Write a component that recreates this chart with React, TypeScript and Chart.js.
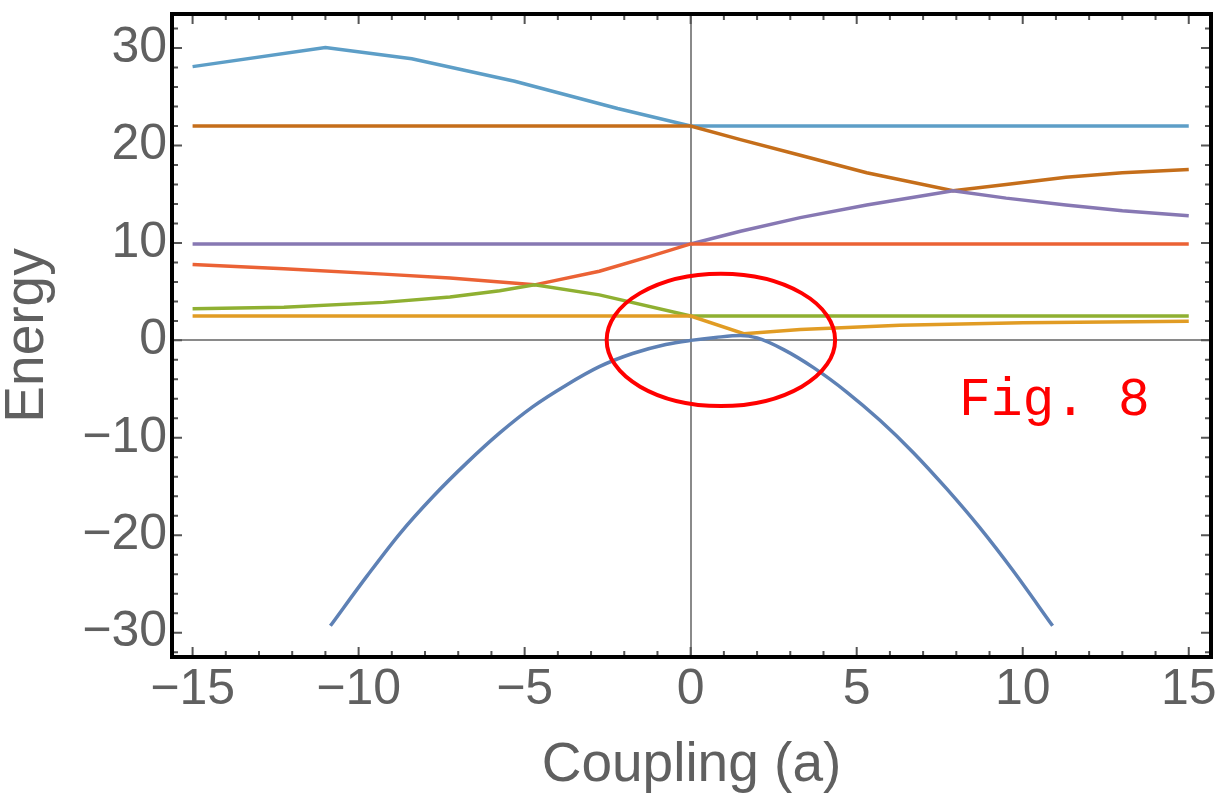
import React, { useEffect, useRef } from 'react';
import { Chart, registerables } from 'chart.js';

Chart.register(...registerables);

// ---- data (Coupling a, Energy) ----
const level1: [number, number][] = [
  [-10.85, -29.3], [-9.75, -24.2], [-8.75, -19.8], [-7.75, -16.0], [-6.75, -12.6], [-5.75, -9.5],
  [-4.75, -6.8], [-3.75, -4.6], [-2.75, -2.7], [-1.75, -1.35], [-0.75, -0.42], [0, 0],
  [0.75, 0.3], [1.5, 0.5], [2.0, 0.25], [2.8, -0.95], [3.7, -2.8], [4.7, -5.3], [5.7, -8.2],
  [6.7, -11.5], [7.7, -15.2], [8.7, -19.2], [9.7, -23.6], [10.9, -29.3],
];
const level2: [number, number][] = [
  [-15, 2.5], [0, 2.5], [1.6, 0.68], [3.3, 1.12], [6.3, 1.54], [10, 1.8], [15, 1.97],
];
const level3: [number, number][] = [
  [-15, 3.25], [-12.25, 3.4], [-9.25, 3.9], [-7.25, 4.45], [-5.75, 5.1], [-4.7, 5.7],
  [-2.75, 4.67], [0, 2.5], [15, 2.5],
];
const level4: [number, number][] = [
  [-15, 7.8], [-12.25, 7.35], [-9.25, 6.8], [-7.25, 6.4], [-4.7, 5.7], [-2.75, 7.1],
  [-1.25, 8.6], [0, 9.9], [15, 9.9],
];
const level5: [number, number][] = [
  [-15, 9.9], [0, 9.9], [1.5, 11.2], [3.3, 12.6], [5.3, 13.9], [7.9, 15.35], [9.5, 14.6],
  [11.3, 13.9], [13, 13.3], [15, 12.8],
];
const level6: [number, number][] = [
  [-15, 22], [0, 22], [1.5, 20.6], [3.3, 19.0], [5.3, 17.2], [7.9, 15.35], [9.5, 16.0],
  [11.3, 16.75], [13, 17.2], [15, 17.55],
];
const level7: [number, number][] = [
  [-15, 28.1], [-11, 30.05], [-8.4, 28.9], [-5.3, 26.6], [-2.2, 23.8], [0, 22], [15, 22],
];

const seriesList = [level1, level2, level3, level4, level5, level6, level7];
const seriesColors = ['#5E81B5', '#E19C24', '#8FB032', '#EB6235', '#8778B3', '#C56E1A', '#5D9EC7'];
const seriesSmooth = [true, false, false, false, false, false, false];

// axis ranges & ticks
const xRange = [-15.62, 15.67];
const yRange = [-32.5, 33.5];
const xMajorTicks = [-15, -10, -5, 0, 5, 10, 15];
const xMinorTicks = [-15, -14, -13, -12, -11, -10, -9, -8, -7, -6, -5, -4, -3, -2, -1, 0, 1, 2, 3, 4, 5, 6, 7, 8, 9, 10, 11, 12, 13, 14, 15];
const yMajorTicks = [-30, -20, -10, 0, 10, 20, 30];
const yMinorTicks = [-32, -30, -28, -26, -24, -22, -20, -18, -16, -14, -12, -10, -8, -6, -4, -2, 0, 2, 4, 6, 8, 10, 12, 14, 16, 18, 20, 22, 24, 26, 28, 30, 32];

// annotation (ellipse around avoided crossing) in data units
const ellipseCenter = [0.91, 0.05];
const ellipseRadii = [3.44, 6.79];
const figLabel = 'Fig. 8';
const figLabelPos = [8.08, -7.7];

const fmt = (v: number) => (v < 0 ? '\u2212' + Math.abs(v) : String(v));

const framePlugin = {
  id: 'framePlugin',
  afterDraw(chart: any) {
    const { ctx, chartArea } = chart;
    const xs = chart.scales.x;
    const ys = chart.scales.y;
    const { left, right, top, bottom } = chartArea;
    ctx.save();
    // annotation ellipse
    const cx = xs.getPixelForValue(ellipseCenter[0]);
    const cy = ys.getPixelForValue(ellipseCenter[1]);
    const rx = Math.abs(xs.getPixelForValue(ellipseCenter[0] + ellipseRadii[0]) - cx);
    const ry = Math.abs(ys.getPixelForValue(ellipseCenter[1] + ellipseRadii[1]) - cy);
    ctx.beginPath();
    ctx.ellipse(cx, cy, rx, ry, 0, 0, Math.PI * 2);
    ctx.strokeStyle = '#FF0000';
    ctx.lineWidth = 4;
    ctx.stroke();
    // figure label
    ctx.fillStyle = '#FF0000';
    ctx.font = '53px "Liberation Mono", "DejaVu Sans Mono", monospace';
    ctx.textAlign = 'left';
    ctx.textBaseline = 'alphabetic';
    ctx.fillText(figLabel, xs.getPixelForValue(figLabelPos[0]), ys.getPixelForValue(figLabelPos[1]));

    // ticks (inward, all four sides)
    ctx.strokeStyle = '#555555';
    ctx.lineWidth = 2;
    const major = 10, minor = 6;
    ctx.beginPath();
    xMinorTicks.forEach((v) => {
      const px = xs.getPixelForValue(v);
      const L = xMajorTicks.includes(v) ? major : minor;
      ctx.moveTo(px, bottom); ctx.lineTo(px, bottom - L);
      ctx.moveTo(px, top); ctx.lineTo(px, top + L);
    });
    yMinorTicks.forEach((v) => {
      const py = ys.getPixelForValue(v);
      if (py < top || py > bottom) return;
      const L = yMajorTicks.includes(v) ? major : minor;
      ctx.moveTo(left, py); ctx.lineTo(left + L, py);
      ctx.moveTo(right, py); ctx.lineTo(right - L, py);
    });
    ctx.stroke();
    // frame
    ctx.strokeStyle = '#000000';
    ctx.lineWidth = 4;
    ctx.strokeRect(left, top, right - left, bottom - top);
    ctx.restore();
  },
};

export default function App() {
  const canvasRef = useRef<HTMLCanvasElement | null>(null);
  useEffect(() => {
    const canvas = canvasRef.current;
    if (!canvas) return;
    const datasets = seriesList.map((s, i) => ({
      label: 'E' + (i + 1),
      data: s.map(([x, y]) => ({ x, y })),
      borderColor: seriesColors[i],
      backgroundColor: seriesColors[i],
      borderWidth: 3.5,
      pointRadius: 0,
      showLine: true,
      tension: 0,
      cubicInterpolationMode: seriesSmooth[i] ? 'monotone' : 'default',
      fill: false,
    }));
    const tickFont = { family: '"Liberation Sans", Arial, sans-serif', size: 50, lineHeight: 1 };
    const titleFont = { family: '"Liberation Sans", Arial, sans-serif', size: 55, lineHeight: 1 };
    const zeroGrid = (ctx: any) => (ctx.tick && ctx.tick.value === 0 ? '#8a8a8a' : 'rgba(0,0,0,0)');
    const chart = new Chart(canvas, {
      type: 'scatter',
      data: { datasets },
      options: {
        animation: false,
        responsive: false,
        devicePixelRatio: 1,
        layout: { padding: { left: 0, right: 18, top: 14, bottom: 0 } },
        plugins: { legend: { display: false }, tooltip: { enabled: false } },
        scales: {
          x: {
            type: 'linear',
            min: xRange[0],
            max: xRange[1],
            ticks: {
              stepSize: 5,
              includeBounds: false,
              autoSkip: false,
              maxRotation: 0,
              padding: 8,
              color: '#606060',
              font: tickFont,
              callback: (v: any) => fmt(Number(v)),
            },
            grid: { drawTicks: false, color: zeroGrid, lineWidth: 2 },
            border: { display: false },
            title: {
              display: true,
              text: 'Coupling (a)',
              color: '#606060',
              font: titleFont,
              padding: { top: 0, bottom: 8 },
            },
            afterFit: (s: any) => {
              s.height = 144;
              s.paddingLeft = 0;
              s.paddingRight = 0;
            },
          },
          y: {
            type: 'linear',
            min: yRange[0],
            max: yRange[1],
            ticks: {
              stepSize: 10,
              includeBounds: false,
              autoSkip: false,
              padding: 5,
              color: '#606060',
              font: tickFont,
              callback: (v: any) => fmt(Number(v)),
            },
            grid: { drawTicks: false, color: zeroGrid, lineWidth: 2 },
            border: { display: false },
            title: {
              display: true,
              text: 'Energy',
              color: '#606060',
              font: titleFont,
              padding: { top: 0, bottom: 0 },
            },
            afterFit: (s: any) => {
              s.width = 172;
              s.paddingTop = 0;
              s.paddingBottom = 0;
            },
          },
        },
      },
      plugins: [framePlugin],
    } as any);
    return () => chart.destroy();
  }, []);
  return (
    <div style={{ position: 'fixed', left: 0, top: 0, width: 1229, height: 801, background: '#ffffff' }}>
      <canvas ref={canvasRef} width={1229} height={801} style={{ width: 1229, height: 801, display: 'block' }} />
    </div>
  );
}
